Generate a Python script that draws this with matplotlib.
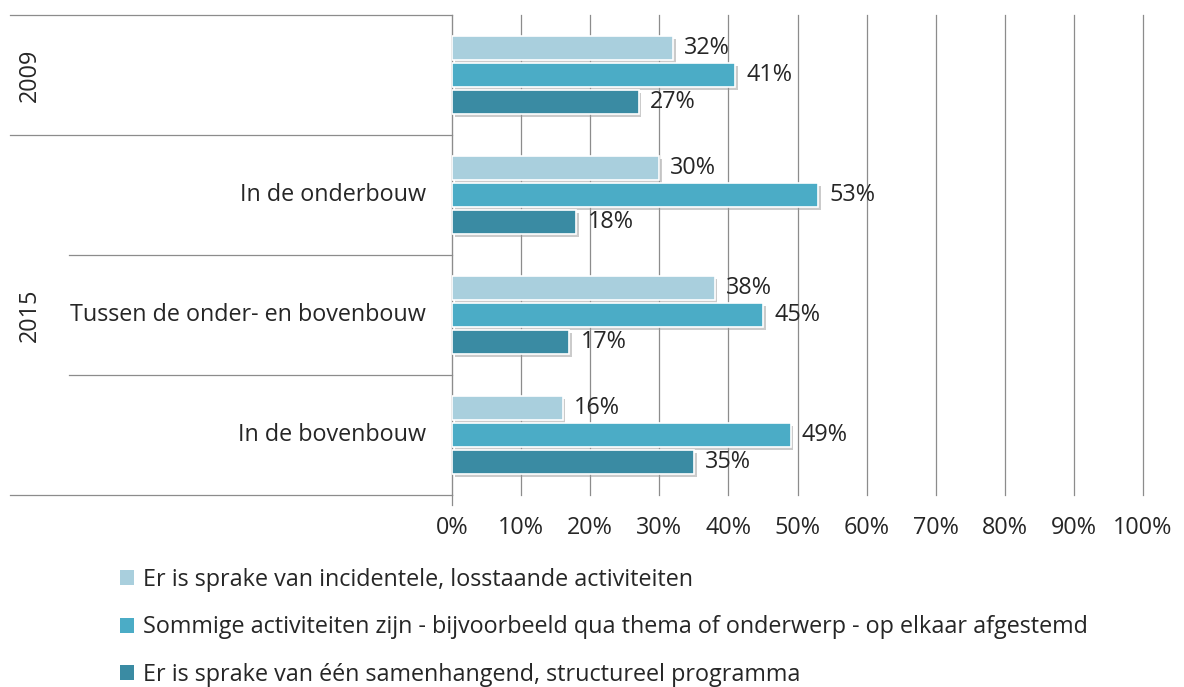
import matplotlib.pyplot as plt
import matplotlib.patheffects as pe
import matplotlib.transforms as mtransforms
from matplotlib.patches import Patch
import numpy as np

plt.rcParams["font.family"] = ["Open Sans", "DejaVu Sans"]

# rows top to bottom
row_labels = ["", "In de onderbouw", "Tussen de onder- en bovenbouw", "In de bovenbouw"]
year_labels = ["2009", "2015"]
series_names = [
    "Er is sprake van incidentele, losstaande activiteiten",
    "Sommige activiteiten zijn - bijvoorbeeld qua thema of onderwerp - op elkaar afgestemd",
    "Er is sprake van één samenhangend, structureel programma",
]
incidenteel = [32, 30, 38, 16]
afgestemd = [41, 53, 45, 49]
samenhangend = [27, 18, 17, 35]
colors = ["#A9CFDD", "#4BACC6", "#3A8BA3"]

FS = 16.8
TXT = "#262626"
W, H = 1184, 687
fig = plt.figure(figsize=(W / 100, H / 100), dpi=100)
ax = fig.add_axes([452 / W, 1 - 495 / H, (1143 - 452) / W, (495 - 15) / H])

y = np.arange(len(row_labels))
offsets = [-0.225, 0.0, 0.225]
shadow = [pe.SimplePatchShadow(offset=(2, -2), shadow_rgbFace="#999999", alpha=0.5), pe.Normal()]
for vals, off, col in zip([incidenteel, afgestemd, samenhangend], offsets, colors):
    bars = ax.barh(y + off, vals, height=0.2, color=col, edgecolor="white",
                   linewidth=1.2, zorder=3)
    for b in bars:
        b.set_path_effects(shadow)
    for yy, v in zip(y + off, vals):
        ax.text(v + 1.6, yy, f"{v}%", va="center", ha="left", fontsize=FS,
                color=TXT, zorder=4)

ax.set_xlim(0, 100)
ax.set_ylim(3.5, -0.5)
ax.set_xticks(np.arange(0, 101, 10))
ax.set_xticklabels([f"{t}%" for t in range(0, 101, 10)], fontsize=FS, color=TXT)
ax.tick_params(axis="x", length=0, pad=15)
ax.set_yticks([])
ax.grid(axis="x", color="#8c8c8c", linewidth=0.9, zorder=0)
for gl in ax.get_xgridlines():
    gl.set_clip_on(False)
for s in ["top", "right", "bottom"]:
    ax.spines[s].set_visible(False)
ax.spines["left"].set_color("#8c8c8c")

# category separators and labels on the left
tr = mtransforms.blended_transform_factory(ax.transAxes, ax.transData)
x_outer = (10 - 452) / 691
x_inner = (69 - 452) / 691
for yy, x0 in [(-0.5, x_outer), (0.5, x_outer), (1.5, x_inner), (2.5, x_inner), (3.5, x_outer)]:
    ax.plot([x0, 0], [yy, yy], transform=tr, color="#8c8c8c", linewidth=0.9, clip_on=False)
ax.plot([0, 0], [3.5, 3.58], transform=tr, color="#8c8c8c", linewidth=0.9, clip_on=False)

for yy, lab in zip(y, row_labels):
    ax.text(-26 / 691, yy, lab, transform=tr, ha="right", va="center",
            fontsize=FS, color=TXT)
ax.text((30 - 452) / 691, 0, year_labels[0], transform=tr, rotation=90,
        ha="center", va="center", fontsize=FS, color=TXT)
ax.text((30 - 452) / 691, 2.0, year_labels[1], transform=tr, rotation=90,
        ha="center", va="center", fontsize=FS, color=TXT)

handles = [Patch(facecolor=c, edgecolor="none") for c in colors]
leg = fig.legend(handles, series_names, loc="upper left",
                 bbox_to_anchor=(120 / W, 1 - 568 / H), frameon=False,
                 fontsize=FS, handlelength=0.6, handleheight=0.6, handletextpad=0.4,
                 labelspacing=1.0, borderaxespad=0, borderpad=0)
for t in leg.get_texts():
    t.set_color(TXT)

fig.savefig("out.png", dpi=100)
